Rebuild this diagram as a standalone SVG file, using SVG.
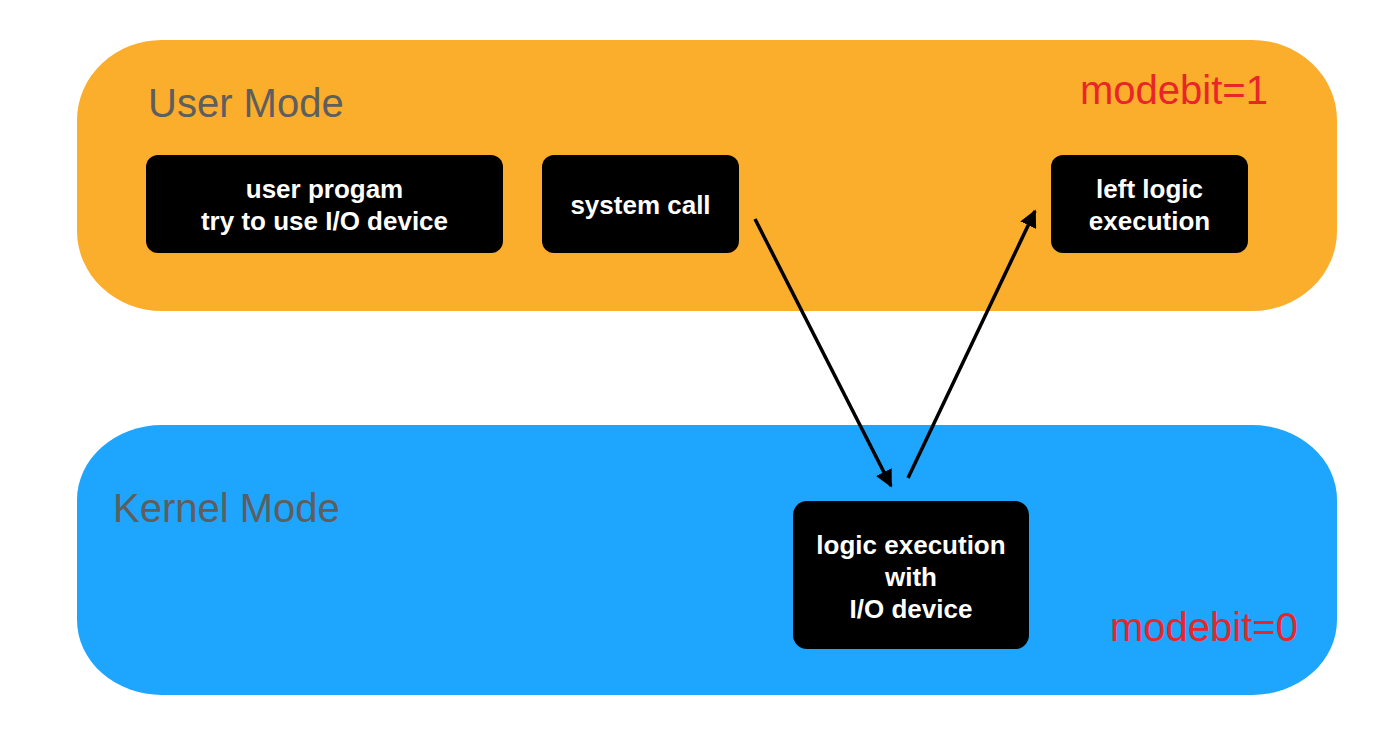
<svg xmlns="http://www.w3.org/2000/svg" width="1400" height="740" viewBox="0 0 1400 740">
<style>
.zone-label{font-family:"Liberation Sans",Arial,sans-serif;font-size:40px;fill:#5e5e5e}
.bit{font-family:"Liberation Sans",Arial,sans-serif;font-size:40px;fill:#e8262a}
.box{fill:#000}
.bt{font-family:"Liberation Sans",Arial,sans-serif;font-size:26px;font-weight:bold;fill:#fff;text-anchor:middle}
.conn{stroke:#000;stroke-width:3.5;fill:none;marker-end:url(#ah)}
</style>
<defs>
<marker id="ah" viewBox="0 0 10 10" refX="9" refY="5" markerWidth="5" markerHeight="5" orient="auto" markerUnits="strokeWidth">
<path d="M0,0 L10,5 L0,10 z" fill="#000"/>
</marker>
</defs>
<rect width="1400" height="740" fill="#fff"/>
<g id="user-mode">
<rect x="77" y="40" width="1260" height="271" rx="85" ry="80" fill="#fbad2c"/>
<text class="zone-label" x="148" y="117">User Mode</text>
<text class="bit" x="1080" y="104">modebit=1</text>
</g>
<g id="kernel-mode">
<rect x="77" y="425" width="1260" height="270" rx="85" ry="75" fill="#1ea5fd"/>
<text class="zone-label" x="113" y="522">Kernel Mode</text>
<text class="bit" x="1110" y="641">modebit=0</text>
</g>
<g id="user-program">
<rect class="box" x="146" y="155" width="357" height="98" rx="12"/>
<text class="bt" x="324.5" y="198">user progam</text>
<text class="bt" x="324.5" y="230">try to use I/O device</text>
</g>
<g id="system-call">
<rect class="box" x="542" y="155" width="197" height="98" rx="12"/>
<text class="bt" x="640.5" y="214">system call</text>
</g>
<g id="left-logic">
<rect class="box" x="1051" y="155" width="197" height="98" rx="12"/>
<text class="bt" x="1149.5" y="198">left logic</text>
<text class="bt" x="1149.5" y="230">execution</text>
</g>
<g id="kernel-logic">
<rect class="box" x="793" y="501" width="236" height="148" rx="14"/>
<text class="bt" x="911" y="554">logic execution</text>
<text class="bt" x="911" y="586">with</text>
<text class="bt" x="911" y="618">I/O device</text>
</g>
<g id="connectors">
<line class="conn" x1="755" y1="219" x2="891" y2="486"/>
<line class="conn" x1="908" y1="478" x2="1035" y2="211"/>
</g>
</svg>
